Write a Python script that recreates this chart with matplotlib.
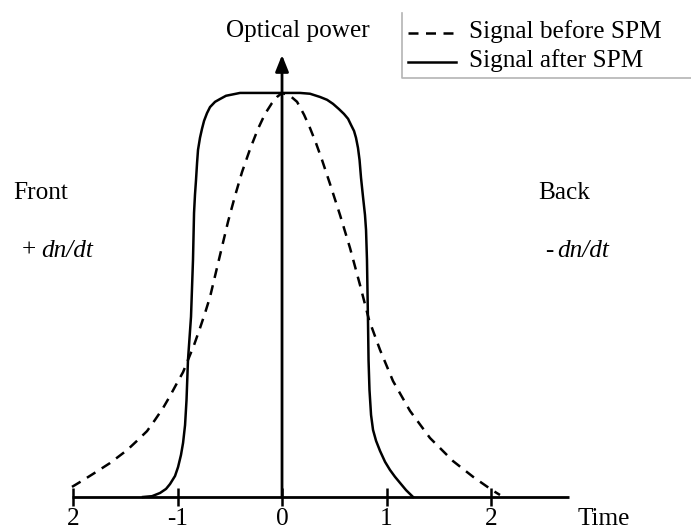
import matplotlib
matplotlib.use("Agg")
import matplotlib.pyplot as plt
from matplotlib.lines import Line2D

# Normalised optical power vs. time (pulse widths) before SPM
t_before = [-2.010, -1.914, -1.809, -1.646, -1.483, -1.388, -1.292, -1.215, -1.139, -1.072,
            -1.005, -0.947, -0.900, -0.842, -0.785, -0.737, -0.689, -0.641, -0.593, -0.517,
            -0.450, -0.383, -0.306, -0.230, -0.163, -0.096, -0.048, 0.000,
            0.077, 0.144, 0.211, 0.268, 0.325, 0.383, 0.459, 0.555, 0.651, 0.746,
            0.833, 0.938, 1.062, 1.225, 1.416, 1.636, 1.828, 2.010, 2.086]
p_before = [0.025, 0.040, 0.057, 0.084, 0.116, 0.139, 0.163, 0.191, 0.220, 0.250,
            0.282, 0.309, 0.339, 0.376, 0.418, 0.455, 0.495, 0.547, 0.599, 0.681,
            0.745, 0.804, 0.861, 0.911, 0.948, 0.975, 0.990, 1.000,
            0.993, 0.978, 0.946, 0.913, 0.876, 0.834, 0.775, 0.698, 0.616, 0.525,
            0.438, 0.364, 0.287, 0.213, 0.146, 0.089, 0.050, 0.017, 0.005]

# Normalised optical power vs. time after SPM
t_after = [-1.330, -1.244, -1.167, -1.110, -1.072, -1.024, -0.995, -0.967, -0.947, -0.928,
           -0.914, -0.900, -0.871, -0.852, -0.842, -0.833, -0.823, -0.813, -0.804, -0.785,
           -0.766, -0.746, -0.718, -0.689, -0.641, -0.593, -0.536, -0.478, -0.402, 0.000,
           0.172, 0.268, 0.364, 0.431, 0.488, 0.545, 0.593, 0.632, 0.660, 0.689,
           0.708, 0.727, 0.742, 0.756, 0.775, 0.794, 0.804, 0.813, 0.823, 0.828,
           0.837, 0.852, 0.871, 0.900, 0.938, 0.986, 1.033, 1.081, 1.129, 1.187, 1.254]
p_after = [0.000, 0.002, 0.010, 0.020, 0.032, 0.052, 0.074, 0.104, 0.134, 0.178,
           0.240, 0.339, 0.446, 0.587, 0.703, 0.748, 0.785, 0.827, 0.859, 0.889,
           0.911, 0.931, 0.950, 0.965, 0.978, 0.985, 0.993, 0.996, 1.000, 1.000,
           1.000, 0.998, 0.990, 0.983, 0.973, 0.960, 0.948, 0.936, 0.921, 0.906,
           0.889, 0.864, 0.834, 0.790, 0.743, 0.698, 0.661, 0.587, 0.431, 0.339,
           0.265, 0.203, 0.166, 0.139, 0.114, 0.087, 0.067, 0.050, 0.035, 0.017, 0.000]

tick_values = [-2, -1, 0, 1, 2]
tick_labels = ["2", "-1", "0", "1", "2"]

W, H = 691, 530
FONT = "Liberation Serif"
FS = 18.2
LW = 1.8

fig = plt.figure(figsize=(W / 100, H / 100), dpi=100)
ax = fig.add_axes([0, 0, 1, 1])
ax.set_xlim(-2.699, 3.914)
ax.set_ylim(-0.0817, 1.230)
ax.axis("off")

dash = (4.0, 3.0)

# pulses
ax.plot(t_before, p_before, color="black", lw=LW, dashes=dash,
        dash_capstyle="butt", dash_joinstyle="round")
ax.plot(t_after, p_after, color="black", lw=LW, solid_joinstyle="round")

# time axis with ticks
ax.plot([-2.01, 2.75], [0, 0], color="black", lw=2.0, solid_capstyle="butt")
for tv in tick_values:
    ax.plot([tv, tv], [-0.022, 0.022], color="black", lw=1.8, solid_capstyle="butt")

# power axis with arrow head
ax.annotate("", xy=(0, 1.094), xytext=(0, 0),
            arrowprops=dict(arrowstyle="-|>,head_length=0.55,head_width=0.22",
                            mutation_scale=18, lw=2.0, color="black",
                            shrinkA=0, shrinkB=0))


def fx(px):
    return px / W


def fy(py):
    return 1 - py / H


# tick labels
for tv, lab in zip(tick_values, tick_labels):
    ax.text(tv, fy(525), lab, transform=ax.get_xaxis_transform(),
            ha="center", va="baseline", fontsize=FS, family=FONT)

fig.text(fx(578), fy(525), "Time", ha="left", va="baseline", fontsize=FS, family=FONT)
fig.text(fx(297.5), fy(37), "Optical power", ha="center", va="baseline",
         fontsize=FS, family=FONT)

fig.text(fx(13), fy(199), "Front", ha="left", va="baseline", fontsize=FS, family=FONT)
fig.text(fx(22), fy(257), "+", ha="left", va="baseline", fontsize=FS, family=FONT)
fig.text(fx(41), fy(257), "dn/dt", ha="left", va="baseline", fontsize=FS,
         family=FONT, style="italic")
fig.text(fx(538), fy(199), "Back", ha="left", va="baseline", fontsize=FS, family=FONT)
fig.text(fx(545), fy(257), "-", ha="left", va="baseline", fontsize=FS, family=FONT)
fig.text(fx(557), fy(257), "dn/dt", ha="left", va="baseline", fontsize=FS,
         family=FONT, style="italic")

# legend
frame_col = "#b4b4b4"
fig.add_artist(Line2D([fx(402), fx(402), fx(691)], [fy(13), fy(78), fy(78)],
                      color=frame_col, lw=1.2))
fig.add_artist(Line2D([fx(408), fx(457)], [fy(33), fy(33)], color="black",
                      lw=LW, dashes=(4.0, 3.0)))
fig.add_artist(Line2D([fx(408), fx(456)], [fy(62), fy(62)], color="black", lw=LW))
fig.text(fx(469), fy(38), "Signal before SPM", ha="left", va="baseline",
         fontsize=FS, family=FONT)
fig.text(fx(469), fy(67), "Signal after SPM", ha="left", va="baseline",
         fontsize=FS, family=FONT)

fig.savefig("out.png", dpi=100)
